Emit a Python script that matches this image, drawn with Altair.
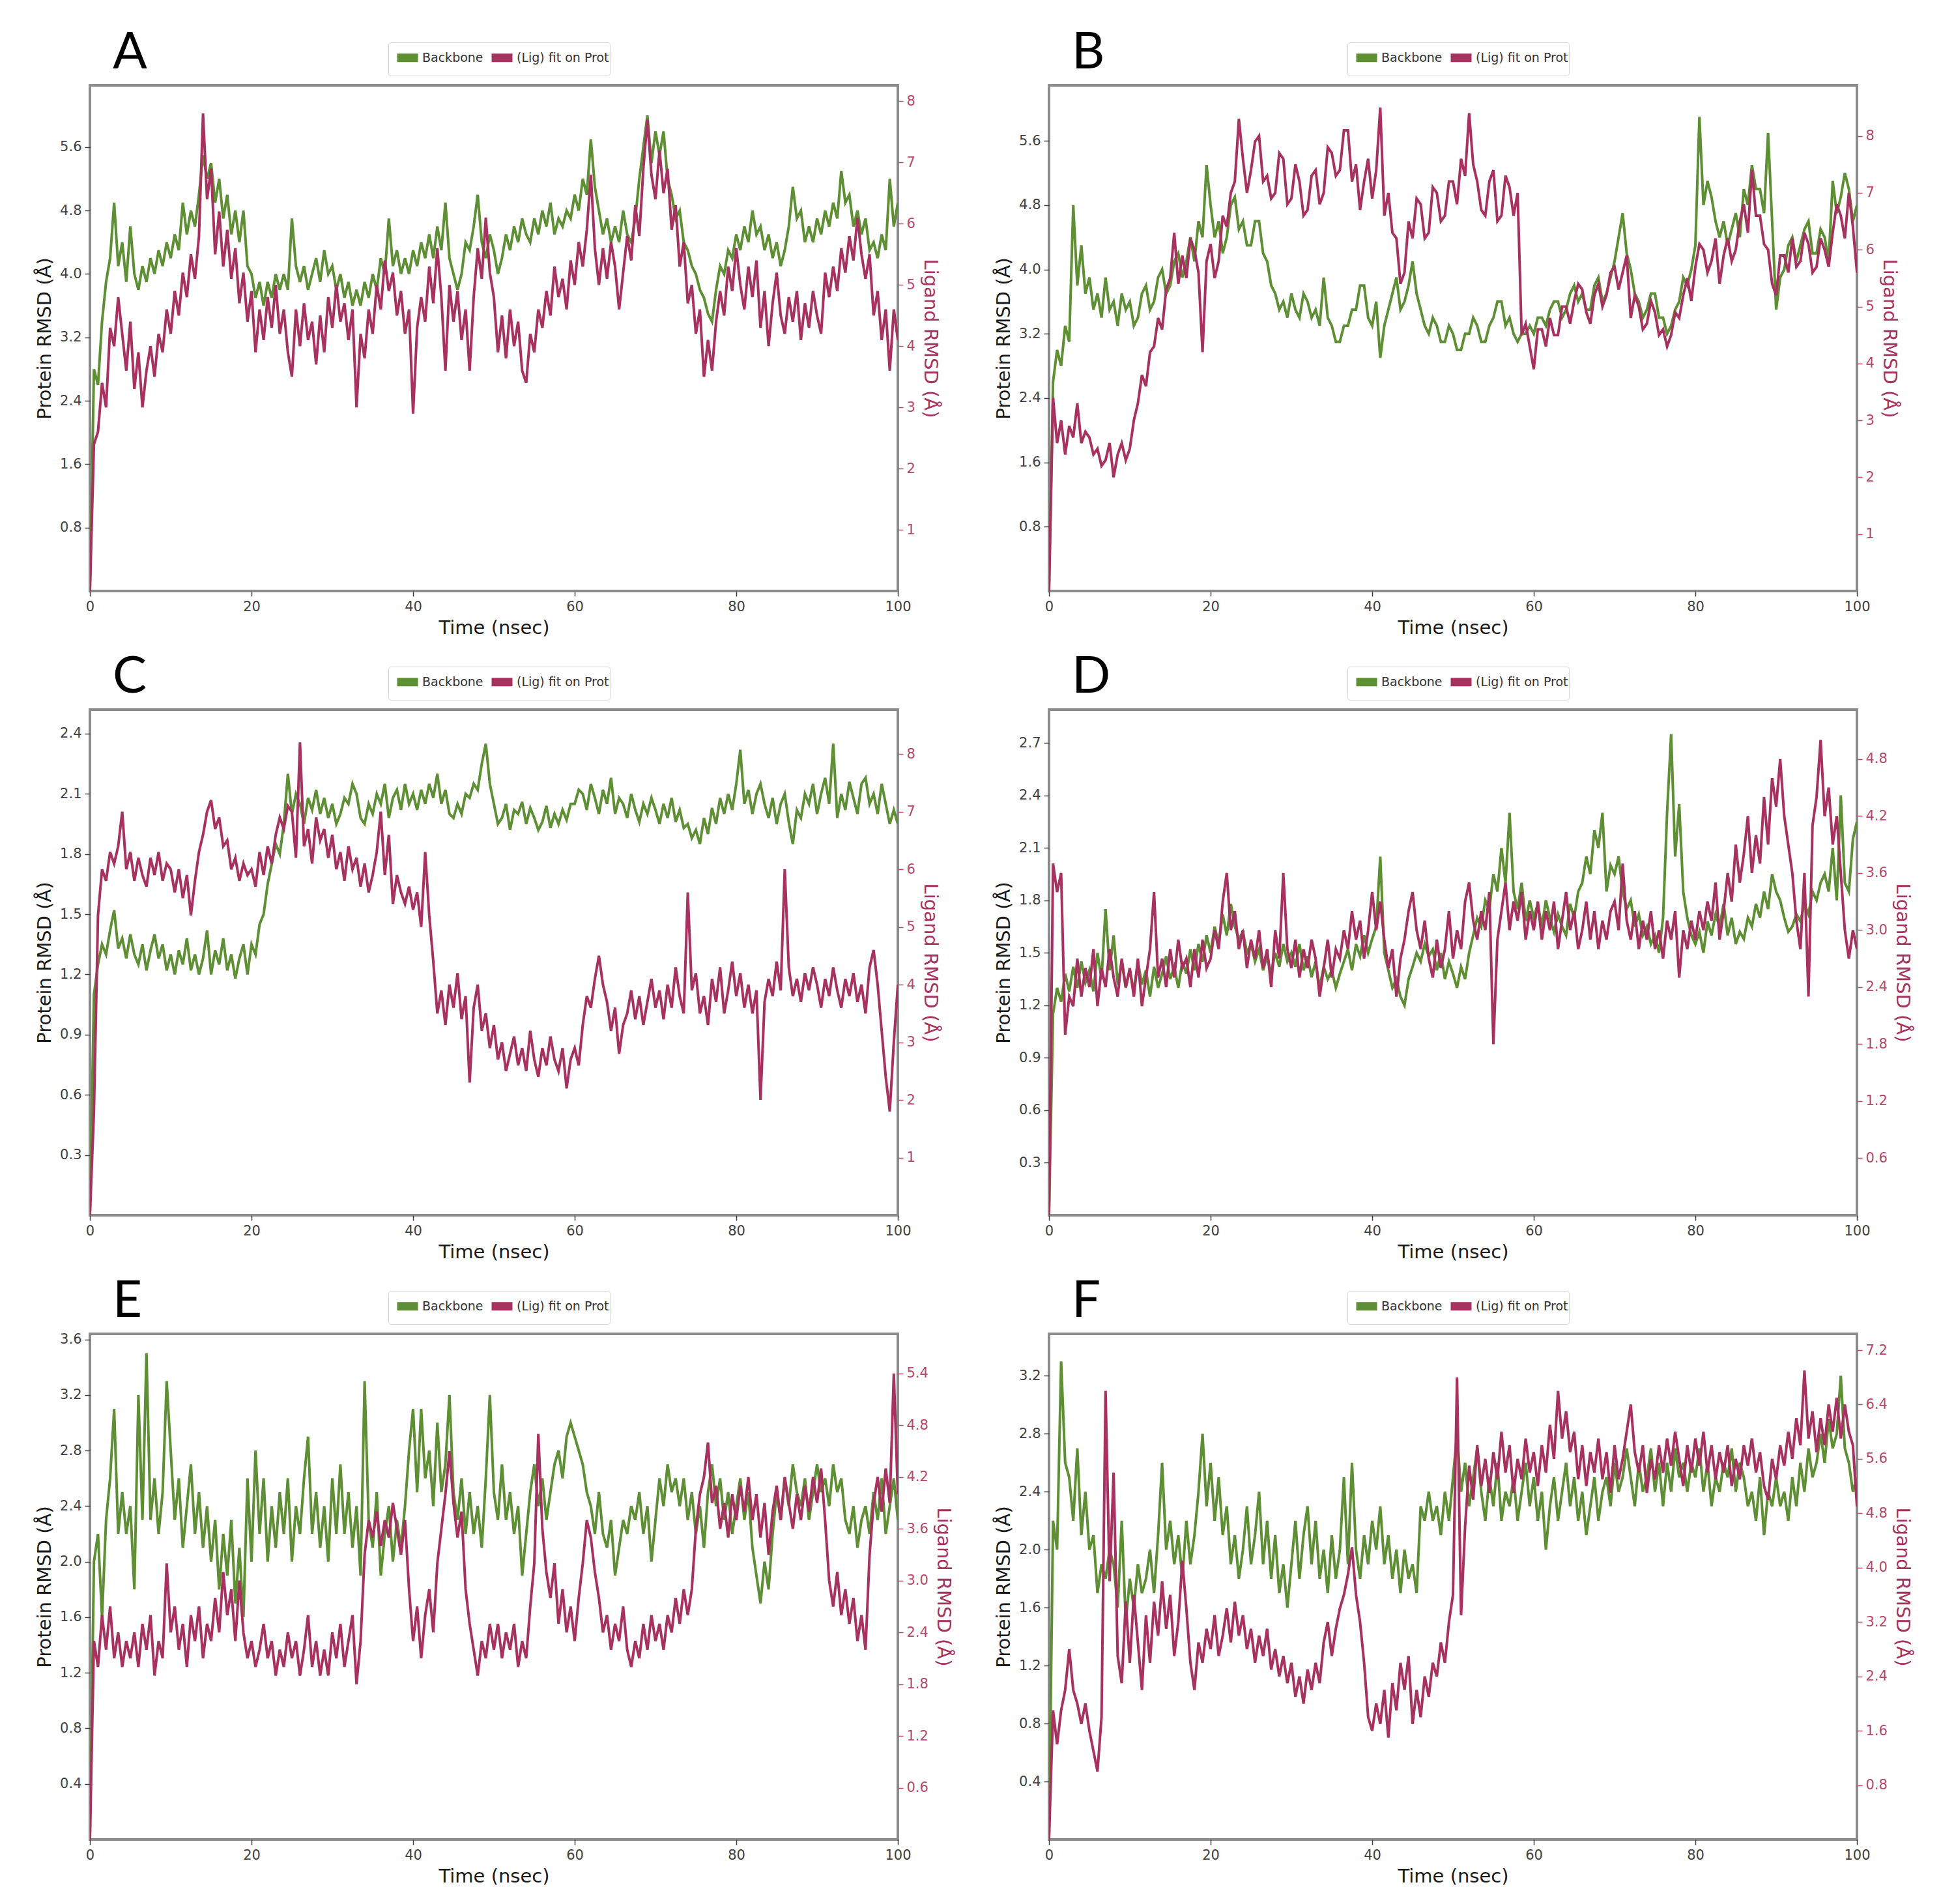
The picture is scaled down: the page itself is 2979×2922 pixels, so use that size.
import pandas as pd
import altair as alt

GREEN = "#5e8f34"
CRIMSON = "#a8325f"
LIG_TICK = "#b5486f"
STEP = 0.5  # ns between samples
SERIES = ["Backbone", "(Lig) fit on Prot"]
X_TICKS = [0, 20, 40, 60, 80, 100]

# Protein (backbone) and ligand RMSD, every 0.5 ns
A_PROT = [0, 2.8, 2.6, 3.4, 3.9, 4.2, 4.9, 4.1, 4.4, 3.9, 4.6, 4.0, 3.8, 4.1, 3.9, 4.2, 4.0, 4.3, 4.1, 4.4,
          4.2, 4.5, 4.3, 4.9, 4.5, 4.8, 4.6, 5.0, 5.5, 5.2, 5.4, 4.9, 5.2, 4.7, 5.0, 4.5, 4.8, 4.4, 4.8, 4.1,
          4.0, 3.7, 3.9, 3.6, 3.9, 3.7, 4.0, 3.8, 4.0, 3.8, 4.7, 4.1, 3.9, 4.1, 3.8, 4.0, 4.2, 3.9, 4.3, 4.0,
          4.1, 3.8, 4.0, 3.7, 3.9, 3.6, 3.8, 3.6, 3.9, 3.7, 4.0, 3.8, 4.2, 4.0, 4.7, 4.1, 4.3, 4.0, 4.2, 4.0,
          4.3, 4.1, 4.4, 4.2, 4.5, 4.2, 4.6, 4.3, 4.9, 4.2, 4.0, 3.8, 4.0, 4.4, 4.3, 4.6, 5.0, 4.4, 4.2, 4.5,
          4.3, 4.0, 4.2, 4.5, 4.3, 4.6, 4.4, 4.7, 4.5, 4.4, 4.7, 4.5, 4.8, 4.6, 4.9, 4.5, 4.7, 4.6, 4.8, 4.7,
          5.0, 4.8, 5.2, 5.0, 5.7, 5.1, 4.8, 4.5, 4.7, 4.4, 4.6, 4.4, 4.8, 4.5, 4.4, 4.7, 5.2, 5.6, 6.0, 5.4,
          5.8, 5.5, 5.8, 5.2, 5.0, 4.7, 4.8, 4.4, 4.3, 4.1, 4.0, 3.8, 3.7, 3.5, 3.4, 3.8, 4.1, 4.0, 4.3, 4.2,
          4.5, 4.3, 4.6, 4.4, 4.8, 4.5, 4.6, 4.3, 4.5, 4.2, 4.4, 4.1, 4.3, 4.6, 5.1, 4.7, 4.8, 4.4, 4.6, 4.4,
          4.7, 4.5, 4.8, 4.6, 4.9, 4.7, 5.3, 4.9, 5.0, 4.6, 4.8, 4.5, 4.7, 4.3, 4.4, 4.2, 4.5, 4.3, 5.2, 4.6, 4.9]
A_LIG = [0, 2.4, 2.6, 3.4, 3.0, 4.3, 4.0, 4.8, 4.2, 3.6, 4.4, 3.3, 3.9, 3.0, 3.6, 4.0, 3.5, 4.2, 3.9, 4.6,
         4.2, 4.9, 4.5, 5.2, 4.8, 5.5, 5.1, 5.8, 7.8, 6.4, 6.9, 5.5, 6.2, 5.3, 5.9, 5.1, 5.6, 4.7, 5.2, 4.4,
         4.9, 3.9, 4.6, 4.1, 4.8, 4.3, 5.0, 4.2, 4.6, 3.9, 3.5, 4.6, 4.0, 4.7, 4.1, 4.4, 3.7, 4.5, 3.9, 4.8,
         4.3, 5.0, 4.4, 4.7, 4.1, 4.6, 3.0, 4.2, 3.8, 4.6, 4.2, 5.0, 4.6, 5.4, 4.9, 5.2, 4.5, 4.9, 4.2, 4.6,
         2.9, 4.3, 4.8, 4.4, 5.3, 4.7, 5.6, 4.8, 3.6, 5.0, 4.4, 4.9, 4.1, 4.6, 3.6, 4.8, 5.6, 5.1, 6.1, 5.2,
         4.8, 3.9, 4.5, 3.8, 4.6, 4.0, 4.4, 3.6, 3.4, 4.2, 3.9, 4.6, 4.3, 4.9, 4.5, 5.3, 4.8, 5.1, 4.6, 5.4,
         5.0, 5.7, 5.3, 5.9, 6.8, 5.6, 5.0, 5.6, 5.1, 5.7, 5.3, 4.6, 5.2, 5.8, 5.4, 6.3, 5.8, 6.9, 7.7, 6.8,
         6.4, 7.2, 6.5, 6.9, 5.9, 6.3, 5.3, 5.7, 4.7, 5.0, 4.2, 4.6, 3.5, 4.1, 3.6, 4.4, 4.9, 4.5, 5.3, 4.9,
         5.6, 5.0, 4.6, 5.3, 4.8, 5.4, 4.3, 4.9, 4.0, 4.7, 5.2, 4.5, 4.2, 4.8, 4.4, 4.9, 4.1, 4.7, 4.3, 4.9,
         4.5, 4.2, 5.2, 4.8, 5.3, 4.9, 5.6, 5.2, 5.8, 5.4, 6.1, 5.5, 5.1, 5.5, 4.5, 4.9, 4.1, 4.6, 3.6, 4.6, 4.1]

B_PROT = [0, 2.6, 3.0, 2.8, 3.3, 3.1, 4.8, 3.8, 4.3, 3.7, 3.9, 3.5, 3.7, 3.4, 3.9, 3.5, 3.6, 3.3, 3.7, 3.5,
          3.6, 3.3, 3.4, 3.7, 3.8, 3.5, 3.6, 3.9, 4.0, 3.7, 3.8, 4.1, 4.2, 3.9, 4.1, 4.4, 4.1, 4.6, 4.4, 5.3,
          4.8, 4.4, 4.6, 4.2, 4.4, 4.8, 4.9, 4.5, 4.6, 4.3, 4.3, 4.6, 4.6, 4.2, 4.1, 3.8, 3.7, 3.5, 3.6, 3.4,
          3.7, 3.5, 3.4, 3.7, 3.6, 3.4, 3.5, 3.3, 3.9, 3.4, 3.3, 3.1, 3.1, 3.3, 3.3, 3.5, 3.5, 3.8, 3.8, 3.4,
          3.3, 3.6, 2.9, 3.3, 3.5, 3.7, 3.9, 3.5, 3.6, 3.8, 4.1, 3.7, 3.5, 3.3, 3.2, 3.4, 3.3, 3.1, 3.1, 3.3,
          3.2, 3.0, 3.0, 3.2, 3.2, 3.4, 3.3, 3.1, 3.1, 3.3, 3.4, 3.6, 3.6, 3.3, 3.4, 3.2, 3.1, 3.2, 3.2, 3.3,
          3.2, 3.4, 3.4, 3.3, 3.5, 3.6, 3.6, 3.4, 3.5, 3.7, 3.8, 3.6, 3.7, 3.5, 3.5, 3.8, 3.9, 3.6, 3.7, 3.9,
          4.1, 4.4, 4.7, 4.2, 4.0, 3.7, 3.6, 3.4, 3.5, 3.7, 3.7, 3.4, 3.4, 3.2, 3.3, 3.5, 3.6, 3.9, 3.8, 4.0,
          4.3, 5.9, 4.8, 5.1, 4.9, 4.6, 4.4, 4.6, 4.3, 4.5, 4.7, 4.4, 5.0, 4.8, 5.3, 5.0, 5.0, 4.7, 5.7, 4.6,
          3.5, 3.9, 4.0, 4.3, 4.4, 4.1, 4.3, 4.5, 4.6, 4.2, 4.2, 4.5, 4.4, 4.1, 5.1, 4.7, 4.9, 5.2, 5.0, 4.6, 4.8]
B_LIG = [0, 3.4, 2.6, 3.0, 2.4, 2.9, 2.7, 3.3, 2.6, 2.8, 2.7, 2.4, 2.5, 2.2, 2.3, 2.6, 2.0, 2.4, 2.6, 2.3,
         2.5, 3.0, 3.3, 3.8, 3.6, 4.2, 4.3, 4.8, 4.6, 5.3, 5.5, 6.3, 5.4, 5.9, 5.5, 6.2, 6.0, 5.6, 4.2, 5.8,
         6.1, 5.5, 5.8, 6.6, 6.4, 7.0, 7.2, 8.3, 7.6, 7.0, 7.4, 7.9, 8.0, 7.2, 7.3, 6.9, 7.0, 7.7, 7.6, 6.8,
         6.9, 7.5, 7.2, 6.6, 6.7, 7.3, 7.4, 6.8, 7.0, 7.8, 7.7, 7.3, 7.4, 8.1, 8.1, 7.2, 7.5, 6.7, 7.2, 7.6,
         6.9, 7.4, 8.5, 6.6, 7.0, 6.3, 6.2, 5.4, 5.6, 6.5, 6.2, 6.9, 6.8, 6.2, 6.3, 7.1, 7.0, 6.5, 6.6, 7.2,
         7.2, 6.8, 7.6, 7.3, 8.4, 7.5, 7.2, 6.7, 6.6, 7.2, 7.4, 6.5, 6.6, 7.3, 7.1, 6.6, 7.0, 4.5, 4.7, 4.3,
         3.9, 4.6, 4.6, 4.3, 4.8, 4.5, 4.5, 5.0, 5.0, 4.7, 5.1, 5.4, 5.3, 4.9, 4.7, 5.2, 5.4, 5.0, 5.2, 5.6,
         5.7, 5.3, 5.6, 5.9, 4.8, 5.2, 5.0, 4.6, 4.7, 5.1, 4.9, 4.5, 4.6, 4.3, 4.5, 4.9, 4.8, 5.2, 5.5, 5.1,
         5.7, 6.1, 6.0, 5.6, 5.8, 6.2, 5.4, 5.9, 6.2, 5.8, 6.0, 6.5, 6.8, 6.3, 7.4, 6.6, 6.6, 6.1, 6.0, 5.4,
         5.2, 5.9, 5.9, 5.6, 6.2, 5.7, 5.8, 6.3, 6.1, 5.6, 5.7, 6.2, 6.0, 5.7, 6.3, 6.8, 6.6, 6.2, 7.0, 6.4, 5.6]

C_PROT = [0, 1.1, 1.25, 1.35, 1.3, 1.42, 1.52, 1.33, 1.38, 1.28, 1.4, 1.3, 1.25, 1.35, 1.22, 1.32, 1.4, 1.28, 1.35, 1.22,
          1.3, 1.2, 1.32, 1.25, 1.38, 1.22, 1.3, 1.2, 1.28, 1.42, 1.2, 1.32, 1.25, 1.38, 1.22, 1.3, 1.18, 1.28, 1.35, 1.2,
          1.35, 1.3, 1.45, 1.5, 1.65, 1.75, 1.85, 1.8, 1.95, 2.2, 2.0, 2.1, 2.05, 1.95, 2.08, 2.02, 2.12, 2.0, 2.08, 1.98,
          2.05, 1.95, 2.0, 2.08, 2.05, 2.15, 2.1, 1.98, 1.95, 2.05, 2.0, 2.1, 2.05, 2.15, 1.98, 2.08, 2.12, 2.02, 2.15, 2.05,
          2.1, 2.02, 2.12, 2.05, 2.15, 2.08, 2.2, 2.05, 2.12, 2.0, 1.98, 2.05, 2.0, 2.1, 2.08, 2.15, 2.12, 2.25, 2.35, 2.15,
          2.05, 1.95, 1.98, 2.05, 1.92, 2.02, 2.0, 2.06, 1.95, 2.03, 1.98, 1.92, 1.96, 2.04, 1.93, 2.0, 1.95, 2.02, 1.97, 2.05,
          2.05, 2.12, 2.1, 2.02, 2.15, 2.08, 2.0, 2.12, 2.05, 2.18, 2.0, 2.08, 2.05, 1.98, 2.1, 2.02, 1.96, 2.05, 2.0, 2.08,
          2.02, 1.95, 2.05, 1.98, 2.08, 1.96, 2.02, 1.93, 1.95, 1.88, 1.92, 1.85, 1.98, 1.9, 2.03, 1.95, 2.08, 2.0, 2.1, 2.02,
          2.15, 2.32, 2.05, 2.12, 2.0, 2.1, 2.15, 2.05, 1.98, 2.08, 1.95, 2.05, 2.1, 1.96, 1.85, 2.02, 1.98, 2.1, 2.05, 2.15,
          2.0, 2.1, 2.18, 2.05, 2.35, 1.98, 2.1, 2.02, 2.16, 2.08, 2.0, 2.15, 2.18, 2.05, 2.1, 2.0, 2.15, 2.05, 1.95, 2.02, 1.95]
C_LIG = [0, 1.8, 5.2, 6.0, 5.8, 6.3, 6.1, 6.4, 7.0, 6.0, 6.3, 5.8, 6.2, 5.9, 5.7, 6.2, 5.9, 6.3, 5.8, 6.1,
         6.0, 5.6, 6.0, 5.5, 5.9, 5.2, 5.8, 6.3, 6.6, 7.0, 7.2, 6.7, 6.9, 6.4, 6.5, 6.0, 6.2, 5.8, 6.1, 5.9,
         6.0, 5.7, 6.3, 5.9, 6.4, 6.1, 6.6, 6.9, 6.7, 7.1, 7.0, 6.2, 8.2, 6.4, 6.7, 6.1, 6.9, 6.5, 6.7, 6.2,
         6.6, 6.0, 6.3, 5.8, 6.4, 6.0, 6.2, 5.7, 6.1, 5.6, 5.9, 6.3, 7.0, 5.9, 6.6, 5.4, 5.9, 5.6, 5.4, 5.7,
         5.3, 5.6, 5.0, 6.3, 5.2, 4.4, 3.5, 3.9, 3.3, 4.0, 3.6, 4.2, 3.4, 3.8, 2.3, 3.6, 4.0, 3.2, 3.5, 2.9,
         3.3, 2.7, 3.0, 2.5, 2.8, 3.1, 2.6, 2.9, 2.5, 3.2, 2.7, 2.4, 2.9, 2.6, 3.1, 2.7, 2.5, 2.9, 2.2, 2.7,
         2.9, 2.6, 3.3, 3.8, 3.6, 4.1, 4.5, 4.0, 3.7, 3.2, 3.6, 2.8, 3.3, 3.5, 3.9, 3.4, 3.8, 3.3, 3.7, 4.1,
         3.6, 3.9, 3.4, 4.0, 3.6, 4.3, 3.8, 3.5, 5.6, 3.9, 4.2, 3.5, 3.8, 3.3, 4.1, 3.7, 4.3, 3.5, 3.9, 4.4,
         3.8, 4.2, 3.6, 4.0, 3.5, 3.9, 2.0, 3.7, 4.1, 3.8, 4.4, 3.9, 6.0, 4.3, 3.8, 4.1, 3.7, 4.2, 3.9, 4.3,
         4.0, 3.6, 4.1, 3.8, 4.3, 3.9, 3.6, 4.1, 3.8, 4.2, 3.7, 4.0, 3.5, 4.3, 4.6, 4.0, 3.2, 2.4, 1.8, 3.0, 4.0]

D_PROT = [0, 1.15, 1.3, 1.22, 1.38, 1.28, 1.42, 1.3, 1.45, 1.33, 1.4, 1.28, 1.5, 1.35, 1.75, 1.4, 1.6, 1.32, 1.45, 1.3,
          1.4, 1.28, 1.45, 1.32, 1.4, 1.25, 1.42, 1.3, 1.38, 1.48, 1.35, 1.42, 1.3, 1.45, 1.38, 1.52, 1.4, 1.55, 1.45, 1.6,
          1.5, 1.65, 1.55, 1.72, 1.6, 1.78, 1.65, 1.58, 1.62, 1.5, 1.55, 1.45, 1.52, 1.4, 1.48, 1.38, 1.5, 1.42, 1.55, 1.45,
          1.5, 1.42, 1.55, 1.4, 1.48, 1.36, 1.45, 1.3, 1.42, 1.35, 1.4, 1.3, 1.38, 1.45, 1.52, 1.4, 1.55, 1.48, 1.6, 1.5,
          1.58, 1.65, 2.05, 1.5, 1.4, 1.3, 1.35, 1.25, 1.2, 1.35, 1.42, 1.5, 1.45, 1.55, 1.48, 1.52, 1.4, 1.5, 1.35, 1.45,
          1.38, 1.3, 1.42, 1.35, 1.5, 1.6, 1.7, 1.65, 1.8, 1.75, 1.95, 1.85, 2.1, 1.9, 2.3, 1.85, 1.75, 1.9, 1.68, 1.8,
          1.7, 1.78, 1.65, 1.8, 1.7, 1.62, 1.72, 1.65, 1.6, 1.78, 1.7, 1.85, 1.9, 2.05, 1.95, 2.2, 2.1, 2.3, 1.85, 2.0,
          1.95, 2.05, 1.85, 1.75, 1.8, 1.65, 1.72, 1.6, 1.65, 1.55, 1.6, 1.5, 1.7, 2.3, 2.75, 2.05, 2.35, 1.85, 1.7, 1.6,
          1.55, 1.62, 1.5, 1.68, 1.6, 1.72, 1.65, 1.78, 1.6, 1.7, 1.55, 1.62, 1.58, 1.7, 1.65, 1.78, 1.7, 1.85, 1.75, 1.95,
          1.85, 1.8, 1.7, 1.62, 1.65, 1.72, 1.68, 1.78, 1.72, 1.85, 1.8, 1.9, 1.95, 1.85, 2.1, 1.8, 2.4, 1.9, 1.85, 2.15, 2.25]
D_LIG = [0, 3.7, 3.4, 3.6, 1.9, 2.3, 2.2, 2.7, 2.3, 2.6, 2.4, 2.8, 2.2, 2.6, 2.4, 2.8, 2.5, 2.3, 2.7, 2.4,
         2.6, 2.3, 2.7, 2.2, 2.5, 2.8, 3.4, 2.5, 2.7, 2.4, 2.8, 2.5, 2.9, 2.6, 2.7, 2.4, 2.8, 2.5, 2.9, 2.6,
         2.7, 3.0, 2.8, 3.3, 3.6, 3.0, 3.2, 2.8, 3.0, 2.6, 2.9, 2.7, 3.0, 2.6, 2.8, 2.4, 3.0, 2.7, 3.6, 2.8,
         2.6, 2.9, 2.5, 2.8, 2.6, 2.9, 2.7, 2.3, 2.6, 2.9, 2.5, 2.8, 2.7, 3.0, 2.8, 3.2, 2.9, 3.1, 2.7, 3.0,
         3.4, 3.0, 3.3, 2.9, 2.6, 2.8, 2.3, 2.7, 2.9, 3.2, 3.4, 3.0, 2.8, 3.1, 2.7, 2.5, 2.9, 2.6, 2.8, 3.2,
         2.7, 3.0, 2.8, 3.3, 3.5, 3.1, 2.9, 3.2, 3.0, 3.4, 1.8, 2.9, 3.2, 3.5, 3.0, 3.3, 3.1, 3.4, 2.9, 3.2,
         3.0, 3.3, 2.9, 3.2, 3.0, 3.3, 2.8, 3.1, 3.4, 3.0, 3.2, 2.8, 3.0, 3.3, 2.9, 3.2, 2.8, 3.1, 2.9, 3.2,
         3.3, 3.0, 3.7, 3.1, 2.9, 3.2, 2.8, 3.1, 2.9, 3.2, 2.8, 3.0, 2.7, 3.1, 2.9, 3.2, 2.5, 3.0, 2.8, 3.1,
         2.9, 3.2, 3.0, 3.3, 3.1, 3.5, 2.9, 3.2, 3.6, 3.3, 3.9, 3.5, 3.8, 4.2, 3.6, 4.0, 3.7, 4.4, 3.9, 4.6,
         4.3, 4.8, 4.2, 3.9, 3.6, 3.1, 2.8, 3.6, 2.3, 4.1, 4.4, 5.0, 4.2, 4.5, 3.9, 4.2, 3.6, 3.0, 2.7, 3.0, 2.8]

E_PROT = [0, 2.0, 2.2, 1.6, 2.3, 2.6, 3.1, 2.2, 2.5, 2.2, 2.4, 1.8, 3.2, 2.3, 3.5, 2.3, 2.6, 2.2, 2.5, 3.3,
          2.8, 2.3, 2.6, 2.1, 2.4, 2.7, 2.2, 2.5, 2.1, 2.4, 2.0, 2.3, 1.8, 2.2, 1.9, 2.3, 1.7, 2.1, 1.6, 2.6,
          2.0, 2.8, 2.2, 2.6, 2.0, 2.4, 2.1, 2.5, 2.2, 2.6, 2.0, 2.4, 2.2, 2.6, 2.9, 2.2, 2.5, 2.1, 2.4, 2.0,
          2.6, 2.2, 2.7, 2.2, 2.5, 2.1, 2.4, 1.9, 3.3, 2.3, 2.1, 2.5, 1.9, 2.2, 2.4, 2.0, 2.3, 2.1, 2.4, 2.8,
          3.1, 2.5, 3.1, 2.6, 2.8, 2.4, 3.0, 2.5, 2.7, 3.2, 2.5, 2.3, 2.6, 2.2, 2.5, 2.2, 2.4, 2.1, 2.6, 3.2,
          2.5, 2.3, 2.7, 2.3, 2.5, 2.2, 2.4, 1.9, 2.2, 2.5, 2.7, 2.4, 2.6, 2.3, 2.5, 2.7, 2.8, 2.6, 2.9, 3.0,
          2.9, 2.8, 2.7, 2.5, 2.4, 2.2, 2.5, 2.2, 2.1, 2.3, 1.9, 2.1, 2.3, 2.2, 2.4, 2.3, 2.5, 2.2, 2.4, 2.0,
          2.3, 2.6, 2.4, 2.7, 2.5, 2.6, 2.4, 2.6, 2.3, 2.5, 2.2, 2.4, 2.1, 2.5, 2.7, 2.4, 2.6, 2.3, 2.5, 2.2,
          2.4, 2.6, 2.3, 2.5, 2.1, 1.9, 1.7, 2.0, 1.8, 2.2, 2.5, 2.3, 2.6, 2.4, 2.7, 2.5, 2.4, 2.6, 2.3, 2.5,
          2.7, 2.5, 2.6, 2.4, 2.7, 2.5, 2.6, 2.3, 2.2, 2.4, 2.1, 2.3, 2.4, 2.2, 2.5, 2.3, 2.6, 2.2, 2.4, 2.6, 2.3]
E_LIG = [0, 2.3, 2.0, 2.6, 2.2, 2.7, 2.1, 2.4, 2.0, 2.3, 2.1, 2.4, 2.0, 2.5, 2.2, 2.6, 1.9, 2.3, 2.1, 3.2,
         2.4, 2.7, 2.2, 2.5, 2.0, 2.6, 2.3, 2.7, 2.1, 2.5, 2.3, 2.8, 2.4, 3.1, 2.6, 2.9, 2.3, 3.0, 2.4, 2.1,
         2.3, 2.0, 2.2, 2.5, 2.1, 2.3, 1.9, 2.2, 2.0, 2.4, 2.1, 2.3, 1.9, 2.2, 2.6, 2.0, 2.3, 1.9, 2.2, 1.9,
         2.4, 2.1, 2.5, 2.0, 2.3, 2.6, 1.8, 2.3, 3.3, 3.7, 3.5, 3.8, 3.4, 3.7, 3.5, 3.9, 3.6, 3.3, 3.7, 2.9,
         2.3, 2.7, 2.1, 2.6, 2.9, 2.4, 3.2, 3.6, 4.0, 4.5, 3.9, 3.5, 3.8, 2.9, 2.5, 2.2, 1.9, 2.3, 2.1, 2.5,
         2.2, 2.5, 2.1, 2.4, 2.2, 2.5, 2.0, 2.3, 2.1, 2.7, 3.2, 4.7, 3.6, 3.1, 2.8, 3.2, 2.5, 2.9, 2.4, 2.7,
         2.3, 2.8, 3.2, 3.7, 3.5, 3.1, 2.8, 2.4, 2.6, 2.2, 2.5, 2.3, 2.7, 2.2, 2.0, 2.3, 2.1, 2.5, 2.2, 2.6,
         2.3, 2.5, 2.2, 2.6, 2.4, 2.8, 2.5, 2.9, 2.6, 2.9, 3.6, 4.0, 4.2, 4.6, 3.9, 4.1, 3.6, 3.9, 3.5, 4.0,
         3.7, 4.1, 3.8, 4.2, 3.7, 4.0, 3.5, 3.9, 3.3, 3.8, 4.1, 3.7, 4.2, 3.9, 3.6, 4.0, 3.7, 4.1, 3.8, 4.2,
         3.9, 4.3, 3.7, 3.0, 2.7, 3.1, 2.6, 2.9, 2.5, 2.8, 2.3, 2.6, 2.2, 3.3, 3.9, 4.2, 3.8, 4.3, 3.9, 5.4, 4.0]

F_PROT = [0, 2.2, 2.0, 3.3, 2.6, 2.5, 2.2, 2.7, 2.1, 2.4, 2.0, 2.1, 1.7, 1.9, 1.8, 2.0, 1.9, 1.6, 2.2, 1.5,
          1.8, 1.6, 1.9, 1.7, 1.8, 2.0, 1.7, 2.1, 2.6, 2.0, 2.2, 1.9, 2.1, 1.8, 2.2, 1.9, 2.1, 2.4, 2.8, 2.3,
          2.6, 2.2, 2.5, 2.1, 2.3, 1.9, 2.1, 1.8, 2.0, 2.3, 1.9, 2.1, 2.4, 1.9, 2.2, 1.8, 2.1, 1.7, 1.9, 1.6,
          1.9, 2.2, 1.8, 2.1, 2.3, 1.9, 2.2, 1.8, 2.0, 1.7, 2.1, 1.8, 2.0, 2.5, 1.9, 2.6, 2.0, 1.8, 2.1, 1.9,
          2.2, 2.0, 2.3, 1.9, 2.1, 1.8, 2.0, 1.7, 2.0, 1.8, 1.9, 1.7, 2.3, 2.2, 2.4, 2.2, 2.3, 2.1, 2.4, 2.2,
          2.5, 2.8, 2.4, 2.6, 2.3, 2.5, 2.7, 2.4, 2.2, 2.5, 2.3, 2.6, 2.2, 2.4, 2.3, 2.5, 2.2, 2.4, 2.6, 2.3,
          2.5, 2.2, 2.4, 2.0, 2.3, 2.5, 2.2, 2.4, 2.6, 2.3, 2.5, 2.2, 2.4, 2.1, 2.3, 2.5, 2.2, 2.4, 2.5, 2.3,
          2.6, 2.4, 2.5, 2.7, 2.5, 2.3, 2.6, 2.4, 2.5, 2.7, 2.4, 2.6, 2.3, 2.6, 2.4, 2.7, 2.5, 2.6, 2.4, 2.6,
          2.5, 2.7, 2.4, 2.6, 2.3, 2.5, 2.4, 2.6, 2.5, 2.7, 2.4, 2.6, 2.5, 2.3, 2.4, 2.2, 2.5, 2.1, 2.4, 2.3,
          2.5, 2.3, 2.4, 2.2, 2.5, 2.3, 2.6, 2.4, 2.7, 2.5, 2.6, 2.8, 2.6, 2.9, 2.7, 2.8, 3.2, 2.7, 2.6, 2.4, 2.5]
F_LIG = [0, 1.9, 1.4, 1.9, 2.2, 2.8, 2.2, 2.0, 1.7, 2.0, 1.6, 1.3, 1.0, 1.8, 6.6, 3.8, 5.4, 2.7, 2.3, 3.5,
         2.6, 3.6, 2.9, 2.2, 3.3, 2.6, 3.5, 3.0, 3.8, 3.1, 3.6, 2.7, 3.2, 4.1, 3.4, 2.6, 2.2, 2.9, 2.6, 3.1,
         2.8, 3.3, 2.7, 3.0, 3.4, 2.9, 3.5, 3.0, 3.3, 2.8, 3.1, 2.6, 3.0, 2.7, 3.1, 2.5, 2.8, 2.4, 2.7, 2.3,
         2.6, 2.1, 2.4, 2.0, 2.5, 2.2, 2.6, 2.3, 2.9, 3.2, 2.7, 3.1, 3.4, 3.6, 3.9, 4.3, 3.6, 3.2, 2.6, 1.8,
         1.6, 2.0, 1.7, 2.2, 1.5, 2.3, 1.9, 2.6, 2.2, 2.7, 1.7, 2.2, 1.8, 2.4, 2.1, 2.6, 2.4, 2.9, 2.6, 3.2,
         3.6, 6.8, 3.3, 4.6, 5.5, 5.0, 5.8, 5.2, 5.6, 5.1, 5.7, 5.3, 6.0, 5.4, 5.8, 5.1, 5.6, 5.3, 5.9, 5.4,
         5.7, 5.2, 5.8, 5.4, 6.1, 5.6, 6.6, 5.9, 6.3, 5.7, 6.0, 5.3, 5.8, 5.2, 5.7, 5.4, 5.9, 5.3, 5.7, 5.1,
         5.8, 5.3, 5.6, 6.0, 6.4, 5.7, 5.4, 5.8, 5.1, 5.6, 5.3, 5.8, 5.4, 5.9, 5.5, 6.0, 5.6, 5.2, 5.8, 5.4,
         5.9, 5.5, 6.0, 5.4, 5.8, 5.3, 5.7, 5.4, 5.8, 5.2, 5.6, 5.3, 5.8, 5.5, 5.9, 5.4, 5.7, 5.2, 5.0, 5.6,
         5.3, 5.8, 5.5, 6.0, 5.6, 6.2, 5.8, 6.9, 5.9, 6.3, 5.7, 6.2, 5.8, 6.4, 6.0, 6.5, 5.9, 6.4, 6.0, 5.8, 4.9]

# Axis ranges and tick labels of each panel
TICKS_08 = [0.8, 1.6, 2.4, 3.2, 4.0, 4.8, 5.6]
TICKS_1 = [1, 2, 3, 4, 5, 6, 7, 8]
TICKS_03 = [0.3, 0.6, 0.9, 1.2, 1.5, 1.8, 2.1, 2.4, 2.7]
TICKS_06 = [0.6, 1.2, 1.8, 2.4, 3.0, 3.6, 4.2, 4.8, 5.4]
TICKS_04 = [0.4, 0.8, 1.2, 1.6, 2.0, 2.4, 2.8, 3.2, 3.6]
TICKS_F_LIG = [0.8, 1.6, 2.4, 3.2, 4.0, 4.8, 5.6, 6.4, 7.2]


def rmsd_panel(letter, prot, lig, prot_top, prot_ticks, lig_top, lig_ticks, lig_fmt):
    """One dual-axis RMSD panel: protein on the left axis, ligand on the right."""
    prot_df = pd.DataFrame({"time": [i * STEP for i in range(len(prot))],
                            "rmsd": prot, "series": SERIES[0]})
    lig_df = pd.DataFrame({"time": [i * STEP for i in range(len(lig))],
                           "rmsd": lig, "series": SERIES[1]})

    x = alt.X("time:Q", scale=alt.Scale(domain=[0, 100], nice=False),
              axis=alt.Axis(values=X_TICKS, title="Time (nsec)", labelFlush=False))
    # Boxed legend centred above the plot, swatches close to their labels
    color = alt.Color(
        "series:N",
        scale=alt.Scale(domain=SERIES, range=[GREEN, CRIMSON]),
        legend=alt.Legend(orient="none", legendX=458, legendY=-66,
                          direction="horizontal", title=None,
                          symbolType="stroke", symbolSize=1024,
                          symbolStrokeWidth=13, symbolOpacity=1,
                          symbolOffset=6,
                          labelFont="DejaVu Sans", labelFontSize=19,
                          labelColor="#333333", labelOffset=0,
                          columnPadding=-30, padding=1,
                          strokeColor="#d4d4d4", fillColor="white",
                          cornerRadius=4))

    prot_line = alt.Chart(prot_df).mark_line(strokeWidth=4, clip=True).encode(
        x=x,
        y=alt.Y("rmsd:Q", scale=alt.Scale(domain=[0, prot_top], nice=False),
                axis=alt.Axis(values=prot_ticks, format=".1f", orient="left",
                              title="Protein RMSD (Å)")),
        color=color)

    lig_line = alt.Chart(lig_df).mark_line(strokeWidth=4, clip=True).encode(
        x=x,
        y=alt.Y("rmsd:Q", scale=alt.Scale(domain=[0, lig_top], nice=False),
                axis=alt.Axis(values=lig_ticks, format=lig_fmt, orient="right",
                              title="Ligand RMSD (Å)", labelColor=LIG_TICK,
                              tickColor=LIG_TICK, titleColor=CRIMSON)),
        color=color)

    tag = alt.Chart(pd.DataFrame({"letter": [letter]})).mark_text(
        font="Lato", fontSize=78, align="left", baseline="alphabetic", color="black"
    ).encode(text="letter:N", x=alt.value(35), y=alt.value(-26))

    return (alt.layer(prot_line, lig_line, tag)
            .resolve_scale(y="independent")
            .properties(width=1240, height=776))


panels = [
    rmsd_panel("A", A_PROT, A_LIG, 6.38, TICKS_08, 8.26, TICKS_1, "d"),
    rmsd_panel("B", B_PROT, B_LIG, 6.29, TICKS_08, 8.89, TICKS_1, "d"),
    rmsd_panel("C", C_PROT, C_LIG, 2.52, TICKS_03[:8], 8.77, TICKS_1, "d"),
    rmsd_panel("D", D_PROT, D_LIG, 2.89, TICKS_03, 5.32, TICKS_06[:8], ".1f"),
    rmsd_panel("E", E_PROT, E_LIG, 3.64, TICKS_04, 5.86, TICKS_06, ".1f"),
    rmsd_panel("F", F_PROT, F_LIG, 3.49, TICKS_04[:8], 7.44, TICKS_F_LIG, ".1f"),
]

chart = (
    alt.concat(*panels, columns=2, spacing={"row": 182, "column": 232}, bounds="flush")
    .resolve_scale(color="independent")
    .properties(padding={"left": 44, "top": 33, "right": 10, "bottom": 10})
    .configure_view(stroke="#8c8c8c", strokeWidth=4)
    .configure_axis(grid=False, domain=False, labelFont="DejaVu Sans",
                    titleFont="DejaVu Sans", labelFontSize=21, titleFontSize=29,
                    titleFontWeight="normal", tickSize=8, tickWidth=1.5,
                    labelPadding=5, titlePadding=8, labelColor="#404040",
                    tickColor="#404040", titleColor="#1a1a1a", labelOverlap=False)
)

chart.save("out.html", embed_options={"renderer": "svg", "actions": False})
